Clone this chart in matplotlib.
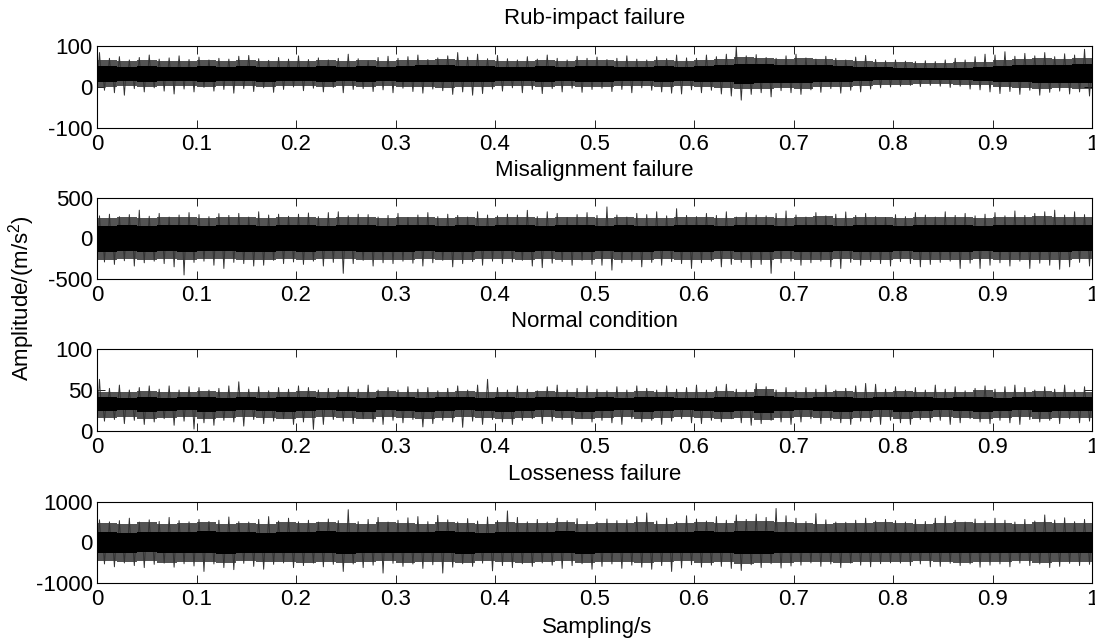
import numpy as np
import matplotlib
matplotlib.use('Agg')
import matplotlib.pyplot as plt

plt.rcParams['font.family'] = ['Liberation Sans', 'DejaVu Sans']
plt.rcParams['mathtext.fontset'] = 'custom'
plt.rcParams['mathtext.rm'] = 'Liberation Sans'
plt.rcParams['mathtext.it'] = 'Liberation Sans:italic'

titles = ['Rub-impact failure', 'Misalignment failure', 'Normal condition', 'Losseness failure']
ylims = [(-100, 100), (-500, 500), (0, 100), (-1000, 1000)]
yticks = [[-100, 0, 100], [-500, 0, 500], [0, 50, 100], [-1000, 0, 1000]]
xticks = [0, 0.1, 0.2, 0.3, 0.4, 0.5, 0.6, 0.7, 0.8, 0.9, 1.0]
xticklabels = ['0', '0.1', '0.2', '0.3', '0.4', '0.5', '0.6', '0.7', '0.8', '0.9', '1']
ylabel = 'Amplitude/(m/s$^2$)'
xlabel = 'Sampling/s'

# Each signal is described by values:
#   *_hi / *_lo     : tallest excursions in every 0.01 s
#   *_env_hi / _lo  : limits of the ragged (half-filled) zone, every 0.02 s
#   *_core_hi / _lo : limits of the solid black band, every 0.02 s

# ---- Rub-impact failure
rub_hi = [84, 70, 74, 66, 72, 78, 68, 71, 76, 67,
          73, 66, 70, 68, 75, 77, 69, 65, 72, 68,
          76, 67, 71, 66, 70, 80, 69, 64, 72, 75,
          70, 74, 78, 67, 71, 76, 84, 73, 80, 69,
          77, 69, 66, 74, 68, 78, 70, 66, 75, 70,
          73, 67, 70, 76, 68, 66, 74, 69, 78, 71,
          70, 78, 74, 80, 98, 76, 79, 72, 70, 76,
          80, 71, 68, 75, 70, 66, 73, 77, 67, 64,
          66, 63, 62, 64, 62, 66, 70, 66, 74, 80,
          78, 86, 75, 82, 76, 84, 74, 81, 78, 92]
rub_lo = [-8, -14, -20, -4, -12, -2, -10, -17, -5, -12,
          -1, -10, -6, -15, -4, -11, -2, -13, -6, 0,
          -9, -3, -12, -1, -14, -6, -4, -11, -7, -14,
          -3, -11, -15, -5, -9, -18, -12, -20, -16, -5,
          -10, -2, -14, -6, -16, -4, -12, -3, -13, -6,
          -3, -11, -6, -14, -2, -8, -12, -15, -17, -7,
          -14, -8, -17, -22, -32, -18, -14, -24, -9, -14,
          -18, -7, -13, -4, -15, -8, -12, -5, -2, 0,
          2, 4, 1, 4, 2, -1, 2, -5, -7, -12,
          -16, -11, -18, -8, -20, -13, -10, -17, -12, -22]
rub_env_hi = [66, 64, 65, 63, 64, 66, 63, 65, 64, 63, 64, 65, 63, 66, 64, 65, 67, 68, 66, 65,
              64, 63, 65, 64, 66, 65, 64, 63, 65, 64, 66, 68, 72, 71, 69, 70, 68, 66, 64, 62,
              60, 59, 58, 60, 62, 66, 68, 70, 69, 71]
rub_env_lo = [0, 2, 1, 3, 2, 1, 3, 2, 1, 3, 2, 1, 3, 0, 2, 1, -1, -2, 0, 1,
              2, 3, 1, 2, 0, 1, 2, 3, 1, 2, 0, -2, -6, -5, -3, -4, -1, 0, 2, 4,
              6, 7, 8, 6, 4, 0, -2, -4, -3, -5]
rub_core_hi = [51, 50, 51, 49, 50, 52, 50, 51, 50, 49, 50, 51, 49, 52, 50, 51, 53, 53, 52, 51,
               50, 49, 51, 50, 52, 51, 50, 49, 51, 50, 52, 53, 56, 55, 54, 54, 53, 52, 50, 48,
               47, 46, 46, 47, 49, 52, 53, 54, 54, 55]
rub_core_lo = [13, 14, 13, 15, 14, 13, 15, 14, 13, 15, 14, 13, 15, 12, 14, 13, 11, 11, 12, 13,
               14, 15, 13, 14, 12, 13, 14, 15, 13, 14, 12, 11, 8, 9, 10, 10, 11, 12, 14, 16,
               17, 18, 18, 17, 15, 12, 11, 10, 10, 9]

# ---- Misalignment failure
mis_hi = [280, 300, 270, 295, 350, 275, 310, 265, 290, 320,
          295, 270, 307, 285, 310, 265, 330, 290, 300, 275,
          300, 315, 270, 320, 330, 280, 300, 295, 265, 285,
          310, 260, 290, 320, 270, 300, 285, 265, 330, 290,
          280, 300, 290, 348, 270, 330, 310, 260, 295, 320,
          285, 390, 290, 265, 310, 295, 330, 280, 368, 285,
          270, 310, 285, 330, 265, 320, 290, 280, 310, 340,
          290, 265, 320, 280, 300, 328, 285, 310, 270, 260,
          295, 270, 320, 290, 265, 330, 285, 310, 280, 300,
          320, 280, 340, 285, 310, 330, 350, 290, 330, 295]
mis_lo = [-290, -320, -275, -340, -300, -280, -310, -350, -450, -295,
          -280, -330, -370, -295, -310, -340, -330, -270, -310, -290,
          -320, -280, -340, -295, -430, -310, -270, -340, -300, -310,
          -280, -305, -340, -300, -270, -350, -310, -285, -330, -280,
          -310, -290, -270, -340, -360, -305, -285, -330, -270, -320,
          -330, -390, -300, -280, -350, -295, -330, -285, -310, -370,
          -300, -280, -350, -320, -295, -360, -320, -430, -300, -280,
          -330, -300, -280, -350, -370, -295, -330, -285, -310, -340,
          -285, -310, -350, -320, -295, -280, -370, -305, -370, -330,
          -300, -340, -280, -370, -305, -330, -380, -350, -295, -340]
mis_env_hi = [258, 265, 250, 262, 270, 255, 264, 268, 252, 260, 266, 256, 270, 262, 252, 260, 266, 255, 263, 258,
              268, 260, 254, 265, 262, 250, 266, 258, 255, 270, 262, 255, 266, 260, 252, 265, 272, 255, 262, 266,
              254, 264, 270, 266, 256, 260, 268, 272, 262, 266]
mis_env_lo = [-262, -255, -270, -252, -266, -258, -256, -270, -260, -252, -266, -258, -255, -270, -262, -264, -252, -260, -268, -256,
              -258, -266, -254, -262, -270, -252, -260, -266, -255, -262, -270, -255, -260, -266, -254, -262, -270, -256, -264, -260,
              -255, -268, -262, -266, -256, -260, -270, -266, -262, -255]
mis_core_hi = [160, 165, 155, 162, 168, 158, 163, 166, 157, 161, 164, 159, 167, 162, 156, 161, 165, 158, 163, 160,
               166, 161, 157, 164, 162, 155, 165, 160, 158, 167, 162, 157, 165, 161, 156, 164, 168, 158, 162, 165,
               157, 163, 168, 165, 158, 161, 166, 169, 162, 165]
mis_core_lo = [-162, -157, -168, -155, -165, -160, -158, -167, -161, -156, -165, -160, -157, -168, -162, -164, -155, -161, -167, -158,
               -160, -165, -157, -162, -168, -155, -161, -165, -158, -162, -168, -157, -161, -165, -156, -162, -168, -158, -164, -161,
               -157, -167, -162, -165, -158, -161, -168, -165, -162, -157]

# ---- Normal condition
nor_hi = [63, 52, 56, 50, 53, 55, 51, 55, 50, 54,
          53, 50, 52, 55, 60, 51, 54, 49, 53, 51,
          55, 53, 50, 52, 50, 54, 51, 56, 50, 53,
          50, 54, 51, 53, 49, 52, 55, 50, 56, 63,
          53, 50, 55, 51, 49, 54, 56, 50, 52, 55,
          51, 49, 54, 50, 55, 52, 50, 55, 51, 53,
          56, 50, 54, 57, 51, 50, 58, 54, 50, 53,
          49, 53, 51, 56, 50, 52, 55, 58, 57, 51,
          54, 50, 53, 50, 56, 51, 54, 49, 52, 55,
          51, 54, 56, 53, 50, 54, 51, 56, 50, 54]
nor_lo = [12, 14, 9, 13, 8, 11, 15, 7, 12, 2.4,
          10, 7, 13, 11, 6, 14, 9, 12, 15, 8,
          11, 2, 8, 14, 12, 9, 15, 11, 8, 13,
          10, 14, 5, 9, 13, 11, 4.5, 12, 8, 14,
          11, 8, 13, 15, 9, 12, 14, 8, 15, 11,
          13, 10, 8, 15, 11, 13, 8, 12, 15, 10,
          9, 13, 11, 15, 10, 7, 9, 13, 11, 8,
          11, 15, 9, 13, 10, 8, 12, 11, 8, 13,
          10, 8, 14, 11, 13, 8, 10, 15, 11, 9,
          13, 10, 8, 14, 11, 13, 9, 15, 10, 12]
nor_env_hi = [48, 47, 49, 47, 48, 49, 47, 48, 47, 48, 49, 47, 48, 47, 49, 48, 47, 48, 49, 47,
              48, 47, 49, 48, 47, 48, 47, 49, 48, 47, 47, 49, 48, 51, 48, 47, 48, 49, 47, 48,
              49, 48, 47, 48, 50, 47, 48, 49, 48, 48]
nor_env_lo = [16, 17, 15, 16, 17, 15, 16, 17, 16, 15, 16, 17, 16, 15, 17, 16, 15, 16, 17, 16,
              15, 16, 17, 16, 15, 16, 17, 15, 16, 17, 16, 15, 16, 13, 16, 17, 16, 15, 16, 17,
              15, 16, 17, 16, 15, 16, 17, 15, 16, 16]
nor_core_hi = [41, 40, 42, 40, 41, 42, 40, 41, 40, 41, 42, 40, 41, 40, 42, 41, 40, 41, 42, 40,
               41, 40, 42, 41, 40, 41, 40, 42, 41, 40, 40, 42, 41, 43, 41, 40, 41, 42, 40, 41,
               42, 41, 40, 41, 42, 40, 41, 42, 41, 41]
nor_core_lo = [24, 25, 23, 24, 25, 23, 24, 25, 24, 23, 24, 25, 24, 23, 25, 24, 23, 24, 25, 24,
               23, 24, 25, 24, 23, 24, 25, 23, 24, 25, 24, 23, 24, 22, 24, 25, 24, 23, 24, 25,
               23, 24, 25, 24, 23, 24, 25, 23, 24, 24]

# ---- Looseness failure
loo_hi = [560, 510, 540, 600, 505, 560, 520, 620, 540, 510,
          570, 520, 550, 630, 515, 505, 570, 640, 530, 600,
          510, 550, 505, 580, 540, 810, 515, 570, 620, 505,
          550, 610, 640, 515, 670, 560, 505, 590, 530, 630,
          540, 780, 620, 510, 570, 505, 600, 540, 590, 520,
          505, 580, 540, 560, 640, 730, 530, 600, 510, 660,
          580, 530, 640, 550, 680, 570, 700, 620, 840, 660,
          600, 520, 715, 560, 505, 500, 550, 600, 530, 570,
          540, 505, 570, 520, 600, 650, 550, 505, 580, 530,
          600, 550, 505, 570, 530, 680, 555, 610, 515, 570]
loo_lo = [-530, -600, -505, -570, -620, -540, -510, -610, -525, -580,
          -715, -530, -620, -670, -515, -590, -660, -540, -505, -620,
          -570, -510, -600, -540, -715, -530, -620, -560, -755, -515,
          -590, -530, -640, -550, -755, -610, -525, -590, -510, -700,
          -570, -620, -525, -590, -505, -560, -640, -570, -525, -660,
          -590, -530, -640, -560, -610, -660, -570, -715, -630, -550,
          -610, -560, -590, -640, -690, -550, -620, -525, -630, -580,
          -560, -505, -590, -530, -620, -510, -560, -600, -525, -505,
          -510, -570, -530, -600, -590, -515, -570, -530, -610, -560,
          -530, -600, -510, -570, -530, -620, -590, -515, -570, -540]
loo_env_hi = [470, 450, 500, 460, 480, 510, 460, 475, 450, 495, 485, 510, 470, 460, 495, 480, 455, 510, 475, 450,
              495, 470, 485, 510, 460, 485, 470, 495, 460, 485, 510, 485, 540, 520, 495, 470, 460, 485, 470, 495,
              485, 455, 470, 495, 485, 470, 455, 495, 485, 470]
loo_env_lo = [-460, -485, -450, -495, -470, -485, -510, -460, -485, -470, -495, -470, -510, -485, -460, -495, -470, -485, -510, -460,
              -485, -495, -470, -460, -510, -485, -470, -495, -485, -460, -495, -485, -530, -510, -495, -470, -485, -495, -470, -485,
              -470, -455, -485, -495, -470, -485, -455, -495, -485, -470]
loo_core_hi = [255, 245, 270, 250, 260, 275, 250, 258, 245, 268, 262, 275, 255, 250, 268, 260, 248, 275, 258, 245,
               268, 255, 262, 275, 250, 262, 255, 268, 250, 262, 275, 262, 290, 280, 268, 255, 250, 262, 255, 268,
               262, 248, 255, 268, 262, 255, 248, 268, 262, 255]
loo_core_lo = [-250, -262, -245, -268, -255, -262, -275, -250, -262, -255, -268, -255, -275, -262, -250, -268, -255, -262, -275, -250,
               -262, -268, -255, -250, -275, -262, -255, -268, -262, -250, -268, -262, -285, -275, -268, -255, -262, -268, -255, -262,
               -255, -248, -262, -268, -255, -262, -248, -268, -262, -255]

series = [(rub_hi, rub_lo, rub_env_hi, rub_env_lo, rub_core_hi, rub_core_lo),
          (mis_hi, mis_lo, mis_env_hi, mis_env_lo, mis_core_hi, mis_core_lo),
          (nor_hi, nor_lo, nor_env_hi, nor_env_lo, nor_core_hi, nor_core_lo),
          (loo_hi, loo_lo, loo_env_hi, loo_env_lo, loo_core_hi, loo_core_lo)]

fig = plt.figure(figsize=(10.95, 6.41), dpi=100)
W, H = 1095.0, 641.0
left, right = 97, 1092
boxes = [(46, 128), (198, 279), (349, 431), (502, 583)]

for k, (arrs, (top, bot)) in enumerate(zip(series, boxes)):
    hi, lo, ehi, elo, chi, clo = [np.asarray(a, float) for a in arrs]
    ax = fig.add_axes([left / W, 1 - bot / H, (right - left) / W, (bot - top) / H])
    n = len(hi); m = len(chi)
    w = 1.0 / n
    xe = np.arange(m + 1) / m
    # ragged zone
    ax.fill_between(xe, np.append(elo, elo[-1]), np.append(ehi, ehi[-1]),
                    step='post', color='0.33', lw=0, zorder=1)
    # tallest excursions
    seg = (np.arange(n) * m) // n
    cen = 0.5 * (chi[seg] + clo[seg])
    offs = np.array([0.1, 0.25, 0.4, 0.6, 0.75, 0.9])
    xs = (np.arange(n)[:, None] + offs[None, :]) * w
    ys = np.stack([cen, hi, cen, cen, lo, cen], axis=1)
    ax.plot(xs.ravel(), ys.ravel(), color='0.2', lw=0.7, zorder=2)
    # solid band on top
    ax.fill_between(xe, np.append(clo, clo[-1]), np.append(chi, chi[-1]),
                    step='post', color='black', lw=0, zorder=3)
    ax.set_xlim(0, 1)
    ax.set_ylim(*ylims[k])
    ax.set_xticks(xticks)
    ax.set_xticklabels(xticklabels)
    ax.set_yticks(yticks[k])
    ax.set_yticklabels([str(v) for v in yticks[k]])
    ax.tick_params(direction='in', length=6, width=0.6, top=True, right=True,
                   labelsize=16, pad=4, colors='black')
    ax.tick_params(axis='y', pad=3)
    for s in ax.spines.values():
        s.set_linewidth(0.8)
        s.set_color('black')
        s.set_zorder(5)
    ax.set_title(titles[k], fontsize=16, pad=16)

fig.text(22 / W, 1 - 298 / H, ylabel, rotation=90, fontsize=16, ha='center', va='center')
fig.text(597 / W, 1 - 628 / H, xlabel, fontsize=16, ha='center', va='center')

fig.savefig('out.png', dpi=100)
